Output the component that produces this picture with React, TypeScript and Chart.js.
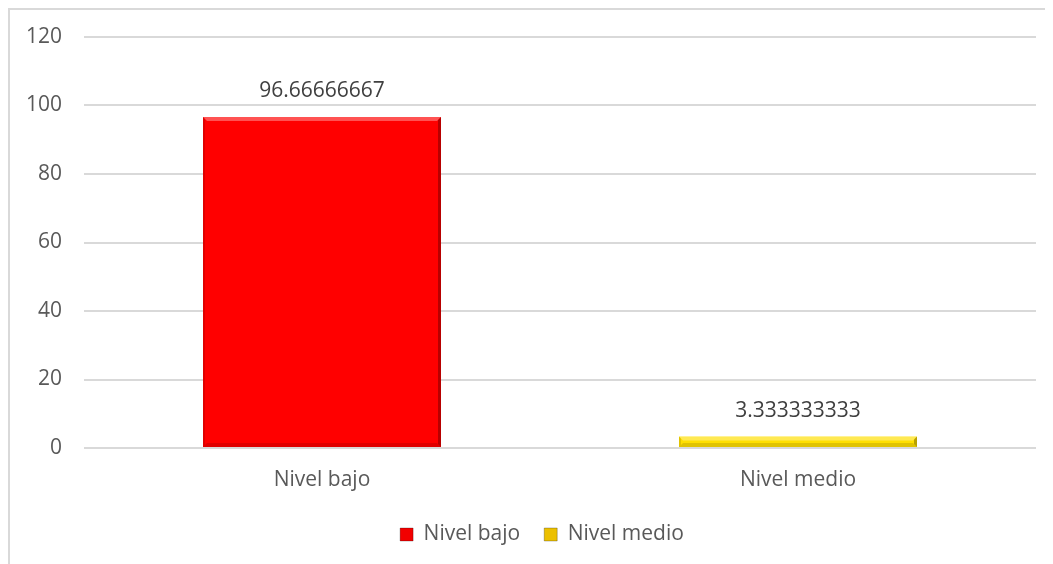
import React, { useEffect, useRef } from "react";
import { Chart, registerables } from "chart.js";

Chart.register(...registerables);

const categories = ["Nivel bajo", "Nivel medio"];
const values = [96.66666667, 3.333333333];
const valueLabels = ["96.66666667", "3.333333333"];
const barColors = ["#ff0000", "#ffdf00"];
const legendColors = ["#f20000", "#ecc000"];
const yTicks = { min: 0, max: 120, step: 20 };

const FONT = "'Open Sans', 'DejaVu Sans', sans-serif";
const TEXT = "#595959";

function face(ctx: any, pts: number[][], fill: string) {
  ctx.fillStyle = fill;
  ctx.beginPath();
  ctx.moveTo(pts[0][0], pts[0][1]);
  for (let i = 1; i < pts.length; i++) ctx.lineTo(pts[i][0], pts[i][1]);
  ctx.closePath();
  ctx.fill();
}

const bevelPlugin = {
  id: "bevel",
  afterDatasetsDraw(chart: any) {
    const ctx = chart.ctx;
    const meta = chart.getDatasetMeta(0);
    meta.data.forEach((bar: any) => {
      const x0 = bar.x - bar.width / 2;
      const x1 = bar.x + bar.width / 2;
      const top = Math.min(bar.y, bar.base);
      const bottom = Math.max(bar.y, bar.base);
      const h = bottom - top;
      const b = Math.min(4, h / 2);
      ctx.save();
      face(ctx, [[x0, top], [x1, top], [x1 - b, top + b], [x0 + b, top + b]], "rgba(255,255,255,0.32)");
      face(ctx, [[x0, top], [x0 + 2, top + 2], [x0 + 2, bottom - 2], [x0, bottom]], "rgba(0,0,0,0.12)");
      face(ctx, [[x1, top], [x1 - 3, top + 3], [x1 - 3, bottom - 3], [x1, bottom]], "rgba(0,0,0,0.28)");
      face(ctx, [[x0, bottom], [x0 + b, bottom - b], [x1 - b, bottom - b], [x1, bottom]], "rgba(0,0,0,0.12)");
      ctx.restore();
    });
  },
};

const dataLabelPlugin = {
  id: "dataLabels",
  afterDatasetsDraw(chart: any) {
    const ctx = chart.ctx;
    const meta = chart.getDatasetMeta(0);
    ctx.save();
    ctx.font = `21px ${FONT}`;
    ctx.fillStyle = "#404040";
    ctx.textAlign = "center";
    ctx.textBaseline = "middle";
    meta.data.forEach((bar: any, i: number) => {
      ctx.fillText(valueLabels[i], bar.x, bar.y - 26);
    });
    ctx.restore();
  },
};

const legendShiftPlugin = {
  id: "legendShift",
  afterLayout(chart: any) {
    if (chart.legend) {
      chart.legend.left += 19;
      chart.legend.right += 19;
    }
  },
};

export default function App() {
  const ref = useRef<HTMLCanvasElement>(null);
  useEffect(() => {
    if (!ref.current) return;
    const chart = new Chart(ref.current, {
      type: "bar",
      data: {
        labels: categories,
        datasets: [
          {
            label: "Valores",
            data: values,
            backgroundColor: barColors,
            borderWidth: 0,
            barPercentage: 0.5,
            categoryPercentage: 1,
          },
        ],
      },
      options: {
        responsive: false,
        animation: false,
        layout: { padding: { top: 27, right: 15, bottom: 9, left: 0 } },
        plugins: {
          tooltip: { enabled: false },
          legend: {
            position: "bottom",
            labels: {
              font: { family: FONT, size: 21 },
              color: TEXT,
              boxWidth: 13,
              boxHeight: 13,
              padding: 24,
              generateLabels: () =>
                categories.map((c, i) => ({
                  text: c,
                  fillStyle: legendColors[i],
                  strokeStyle: "rgba(0,0,0,0.25)",
                  lineWidth: 1,
                  hidden: false,
                  index: i,
                  datasetIndex: 0,
                  fontColor: TEXT,
                })),
            },
          },
        },
        scales: {
          x: {
            grid: { display: false, drawTicks: false },
            border: { display: false },
            ticks: { font: { family: FONT, size: 21 }, color: TEXT, padding: 19 },
            afterFit: (s: any) => {
              s.height = 52;
            },
          },
          y: {
            min: yTicks.min,
            max: yTicks.max,
            grid: {
              color: "#d9d9d9",
              lineWidth: 2,
              drawTicks: true,
              tickLength: 14,
              tickColor: "rgba(0,0,0,0)",
            },
            border: { display: false },
            ticks: {
              stepSize: yTicks.step,
              font: { family: FONT, size: 21 },
              color: TEXT,
              padding: 8,
            },
            afterFit: (s: any) => {
              s.width = 74;
            },
          },
        },
      },
      plugins: [bevelPlugin, dataLabelPlugin, legendShiftPlugin],
    });
    return () => chart.destroy();
  }, []);
  return (
    <div
      style={{
        position: "relative",
        boxSizing: "border-box",
        width: 1045,
        height: 570,
        border: "2px solid #d9d9d9",
        background: "#fff",
      }}
    >
      <canvas ref={ref} width={1041} height={554} style={{ display: "block" }} />
    </div>
  );
}
